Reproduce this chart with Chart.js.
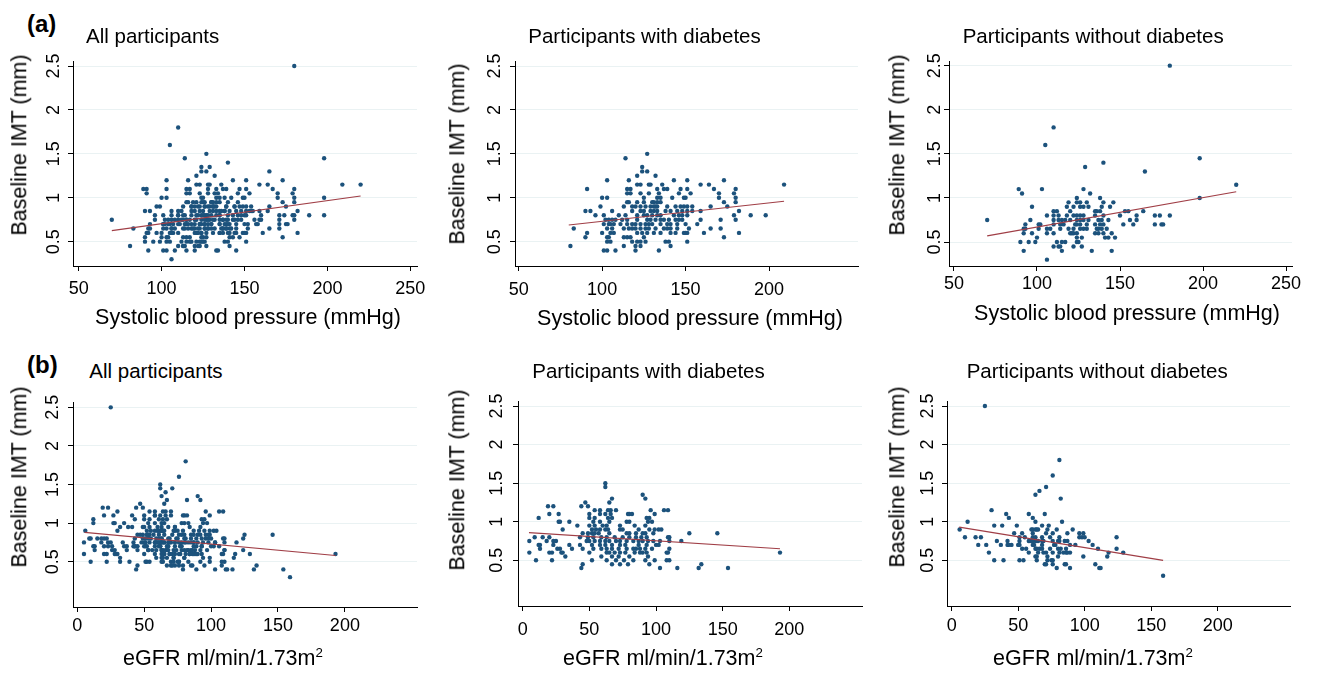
<!DOCTYPE html>
<html><head><meta charset="utf-8">
<script src="https://cdn.jsdelivr.net/npm/chart.js@4.4.1/dist/chart.umd.min.js"></script>
<style>
html,body{margin:0;padding:0;background:#fff;}
body{width:1317px;height:676px;position:relative;overflow:hidden;font-family:"Liberation Sans",Arial,sans-serif;color:#000;}
canvas{position:absolute;}
.t{position:absolute;white-space:nowrap;line-height:1;}
.lbl{font-size:24px;font-weight:bold;transform:translateY(-50%);}
.ttl{font-size:20.5px;transform:translateY(-50%);}
.xt{font-size:21.5px;transform:translate(-50%,-50%);}
.yt{font-size:21.5px;transform:translate(-50%,-50%) rotate(-90deg);}
sup{font-size:0.62em;vertical-align:0.6em;line-height:0;}
</style></head><body>
<script>
// ---- Data: rows of [IMT (mm), x values] ----
const sbpDiabetes = [
 [1.5,[127]],[1.45,[114]],[1.35,[124]],[1.3,[124,127]],[1.25,[121,132]],
 [1.2,[103,116,143,151,173]],
 [1.15,[121,123,128,129,136,159,164,209]],
 [1.1,[91,115,117,133,137,139,147,151,167,180]],
 [1.05,[115,117,123,128,134,146,153,170,179]],
 [1,[100,103,125,133,135,142,149,150,170,180]],
 [0.95,[115,116,121,125,130,131,133,135,173,180]],
 [0.9,[99,113,118,120,123,126,129,131,132,133,139,144,147,149,151,154,165,175]],
 [0.85,[90,93,106,118,123,125,129,131,133,138,141,145,148,151,154,159,182]],
 [0.8,[96,101,110,114,121,125,127,130,133,135,143,146,148,151,179,189,198]],
 [0.75,[102,104,106,108,112,115,121,127,129,132,135,137,140,144,146,148,159,171,180]],
 [0.7,[101,104,105,107,111,115,118,120,123,126,128,130,135,139,141,145,150,157]],
 [0.65,[83,103,106,113,116,118,120,123,126,128,132,137,139,141,145,152,165,171]],
 [0.6,[91,100,105,107,121,124,127,131,135,141,144,149,150,151,161,182]],
 [0.55,[90,103,104,113,115,117,125,173]],
 [0.5,[103,105,118,121,123,126,138,140,151]],
 [0.45,[81,113,120,123,141]],
 [0.4,[101,103,108,120,134]]
];
const sbpNoDiabetes = [
 [2.5,[180]],[1.8,[110]],[1.6,[105]],[1.45,[198]],[1.4,[140]],[1.35,[129]],[1.3,[165]],[1.15,[220]],
 [1.1,[89,103,128]],[1.05,[91,132]],[1,[124,138,198]],
 [0.95,[119,124,126,130,140,146]],
 [0.9,[97,118,122,126,128,131,139,144]],
 [0.85,[110,112,120,135,136,138,153,155,164]],
 [0.8,[106,110,113,118,122,124,126,128,135,140,150,160,171,174,180]],
 [0.75,[70,96,110,113,115,117,120,124,126,128,131,137,139,143,156,160]],
 [0.7,[93,101,102,110,114,116,123,124,126,130,135,138,140,152,158,171,175,176]],
 [0.65,[92,93,101,106,108,114,119,122,126,128,130,136,137,139,142]],
 [0.6,[92,97,106,110,120,121,122,124,135,137,140,145]],
 [0.55,[100,124,127,141,143,147]],
 [0.5,[90,95,99,112,115,117,124,125]],
 [0.45,[110,113,114,122,127]],
 [0.4,[92,115,133,145]],
 [0.3,[106]]
];
const egfrDiabetes = [
 [1.5,[62]],[1.45,[62]],[1.35,[90]],[1.3,[67,92]],[1.25,[47,65]],[1.2,[19,23,44,49]],
 [1.15,[54,58,64,66,70,96,106,109]],
 [1.1,[20,27,50,58,62,66,79,80,82,99]],
 [1.05,[12,50,54,64,67,93,95]],
 [1,[27,28,35,53,58,65,78,80,94,97]],
 [0.95,[41,50,54,60,63,73,84,92]],
 [0.9,[30,52,55,58,62,64,73,75,87,95,99,102,104]],
 [0.85,[45,49,52,54,57,65,78,80,85,90,92,98,125,146]],
 [0.8,[9,15,20,43,49,53,59,63,69,75,80,85,89,93,109,110]],
 [0.75,[5,18,23,25,48,50,54,58,62,65,70,73,78,83,87,90,94,98,103,110,119]],
 [0.7,[12,13,23,35,43,52,58,62,67,73,77,87,93,100,102]],
 [0.65,[13,26,28,37,45,53,59,63,67,72,78,83,85,88,92,97,110]],
 [0.6,[5,20,22,29,30,50,63,65,69,73,77,84,88,90,93,108,109,193]],
 [0.55,[32,59,67,72,80,94]],
 [0.5,[10,22,52,63,70,76,83,92,99,108,110]],
 [0.45,[45,67,73,79,95,134]],
 [0.4,[44,103,116,132,154]]
];
const egfrNoDiabetes = [
 [2.5,[25]],[1.8,[81]],[1.6,[76]],[1.45,[71]],[1.4,[66]],[1.35,[63]],[1.3,[82]],[1.15,[30]],
 [1.1,[41,58,70]],[1.05,[43,61]],[1,[12,63,83]],[0.95,[32,38,49,68,73]],
 [0.9,[6,60,61,63,64,65,72,79,91]],
 [0.85,[47,53,61,71,76,87,96,99]],
 [0.8,[10,18,22,51,55,61,63,68,74,81,96,98,100,124]],
 [0.75,[34,42,51,58,59,60,61,63,64,65,68,69,76,80,81,85,87,103]],
 [0.7,[20,26,37,42,43,45,50,51,61,62,68,77,78,89,93,106]],
 [0.65,[53,56,63,64,66,68,74,80,82,86,110,124]],
 [0.6,[28,58,65,69,71,76,81,84,86,87,89,118,129]],
 [0.55,[63,64,72,80,99,117]],
 [0.5,[32,39,51,54,64,72,75,76]],
 [0.45,[70,71,76,85,86,108]],
 [0.4,[79,89,111,112]],
 [0.3,[159]]
];
// fitted regression line end points
const fitSbpAll = [[70,0.625],[220,1.02]];
const fitSbpDiab = [[80,0.69],[209,0.96]];
const fitSbpNoDiab = [[70,0.57],[220,1.07]];
const fitEgfrAll = [[5.5,0.88],[193,0.58]];
const fitEgfrDiab = [[4.7,0.86],[193,0.65]];
const fitEgfrNoDiab = [[5.7,0.93],[159,0.50]];
// tick values and labels
const imtTicks = [0.5,1,1.5,2,2.5];
const imtTickLabels = ['0.5','1','1.5','2','2.5'];
const sbpTicks = [50,100,150,200,250];
const sbpTicksDiab = [50,100,150,200];
const egfrTicks = [0,50,100,150,200];
const panelTitles = ['All participants','Participants with diabetes','Participants without diabetes'];
const sbpLabel = 'Systolic blood pressure (mmHg)';
const egfrLabel = 'eGFR ml/min/1.73m<sup>2</sup>';
const yLabel = 'Baseline IMT (mm)';

// ---- Helpers ----
const toPts = rows => rows.flatMap(([y, xs]) => xs.map(x => ({x, y})));
const FONT = "'Liberation Sans', Arial, sans-serif";

const panels = [
 {rows:[sbpDiabetes,sbpNoDiabetes], fit:fitSbpAll, xr:[46.6,254], yr:[0.223,2.557], xt:sbpTicks, plot:[73,61,417,266], xPad:7.5, yPad:1.3,
  title:panelTitles[0], tp:[86,35.5], xl:sbpLabel, xp:[248,317.5], yp:[20.2,145]},
 {rows:[sbpDiabetes], fit:fitSbpDiab, xr:[47.8,253.3], yr:[0.223,2.557], xt:sbpTicksDiab, plot:[515,61,858,266], xPad:8, yPad:2.3,
  title:panelTitles[1], tp:[528.3,35.5], xl:sbpLabel, xp:[690,319], yp:[458.3,154]},
 {rows:[sbpNoDiabetes], fit:fitSbpNoDiab, xr:[47,253.6], yr:[0.228,2.553], xt:sbpTicks, plot:[949,61,1292,266], xPad:2.5, yPad:-3.7,
  title:panelTitles[2], tp:[962.7,35.5], xl:sbpLabel, xp:[1127,314], yp:[898.3,145]},
 {rows:[egfrDiabetes,egfrNoDiabetes], fit:fitEgfrAll, xr:[-3.2,253.9], yr:[-0.087,2.569], xt:egfrTicks, plot:[73,402,417,607], xPad:3, yPad:2.3,
  title:panelTitles[0], tp:[89.3,370.5], xl:egfrLabel, xp:[223,659], yp:[20,476.7]},
 {rows:[egfrDiabetes], fit:fitEgfrDiab, xr:[-3.5,254.5], yr:[-0.092,2.565], xt:egfrTicks, plot:[518,401,862,606], xPad:8, yPad:3.3,
  title:panelTitles[1], tp:[532.3,370.5], xl:egfrLabel, xp:[663,659], yp:[458.3,479.5]},
 {rows:[egfrNoDiabetes], fit:fitEgfrNoDiab, xr:[-3.5,254.4], yr:[-0.092,2.565], xt:egfrTicks, plot:[947,401,1290,606], xPad:4, yPad:1.3,
  title:panelTitles[2], tp:[966.7,370.5], xl:egfrLabel, xp:[1093,659], yp:[898.3,476.7]}
];

function addText(cls, html, x, y){
  const d = document.createElement('div');
  d.className = 't ' + cls; d.innerHTML = html;
  d.style.left = x + 'px'; d.style.top = y + 'px';
  document.body.appendChild(d);
}

addText('lbl','(a)',27,24.2);
addText('lbl','(b)',27,365);

panels.forEach(p => {
  const W = 60, H = 40, padT = 20, padR = 22;
  const [L,T,R,B] = p.plot;
  const cw = R - L + W + padR, ch = B - T + padT + H;
  const c = document.createElement('canvas');
  c.width = cw; c.height = ch;
  c.style.left = (L - W) + 'px'; c.style.top = (T - padT) + 'px';
  c.style.width = cw + 'px'; c.style.height = ch + 'px';
  document.body.appendChild(c);
  const pts = p.rows.flatMap(toPts);
  const fitPts = p.fit.map(([x,y]) => ({x, y}));
  new Chart(c, {
    type: 'scatter',
    data: { datasets: [
      { data: pts, pointRadius: 2.2, pointHoverRadius: 2.2, pointBackgroundColor: '#1c527c', pointBorderWidth: 0, order: 2 },
      { data: fitPts, showLine: true, borderColor: '#a03e46', borderWidth: 1.2, pointRadius: 0, fill: false, order: 1 }
    ]},
    options: {
      responsive: false, animation: false, devicePixelRatio: 1, events: [],
      layout: { padding: { top: padT, right: padR, left: 0, bottom: 0 } },
      plugins: { legend: { display: false }, tooltip: { enabled: false }, title: { display: false } },
      scales: {
        x: {
          type: 'linear', min: p.xr[0], max: p.xr[1],
          afterBuildTicks: s => { s.ticks = p.xt.map(v => ({ value: v })); },
          afterFit: s => { s.height = H; },
          grid: { drawOnChartArea: false, drawTicks: true, tickLength: 5, tickColor: '#000', tickWidth: 1 },
          border: { display: true, color: '#000', width: 1 },
          ticks: { color: '#000', font: { family: FONT, size: 18 }, padding: p.xPad, maxRotation: 0, autoSkip: false,
                   callback: v => String(v) }
        },
        y: {
          type: 'linear', min: p.yr[0], max: p.yr[1],
          afterBuildTicks: s => { s.ticks = imtTicks.map(v => ({ value: v })); },
          afterFit: s => { s.width = W; },
          grid: { color: '#eaf2f3', lineWidth: 1, drawTicks: true, tickLength: 5, tickColor: '#000', tickWidth: 1 },
          border: { display: true, color: '#000', width: 1 },
          ticks: { color: '#000', font: { family: FONT, size: 18 }, padding: p.yPad, minRotation: 90, maxRotation: 90,
                   crossAlign: 'center', autoSkip: false,
                   callback: v => imtTickLabels[imtTicks.indexOf(v)] }
        }
      }
    }
  });
  addText('ttl', p.title, p.tp[0], p.tp[1]);
  addText('xt', p.xl, p.xp[0], p.xp[1]);
  addText('yt', yLabel, p.yp[0], p.yp[1]);
});
</script>
</body></html>
